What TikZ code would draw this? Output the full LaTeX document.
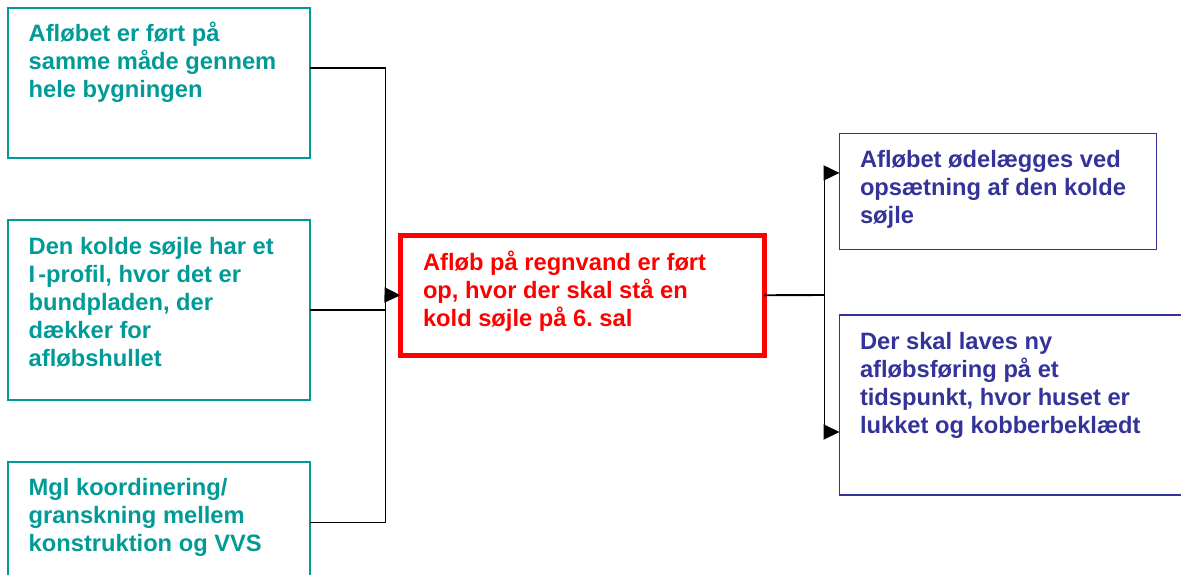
\documentclass[tikz,border=0pt]{standalone}
\usepackage{fontspec}
\setmainfont{Liberation Sans}
\usepackage{tikz}
\usetikzlibrary{arrows.meta}
\usetikzlibrary{calc}
\definecolor{tealc}{HTML}{009A97}
\definecolor{bluec}{HTML}{333399}
\definecolor{redc}{rgb}{1.0, 0.0, 0.0}
\frenchspacing

\newcommand{\boxtext}[3]{\parbox[t][#1][t]{#2}{\rule{0pt}{20pt}#3}}

\tikzset{
  basebox/.style={rectangle, anchor=north west, outer sep=0pt, inner xsep=21pt, inner ysep=14pt,
    align=left, font=\fontsize{23.7}{28}\selectfont\bfseries},
  causebox/.style={basebox, draw=tealc, line width=2pt, text=tealc},
  problembox/.style={basebox, draw=redc, line width=5pt, text=redc, inner xsep=22.5pt, inner ysep=15pt},
  effectbox/.style={basebox, draw=bluec, line width=1.8pt, text=bluec, inner xsep=20.5pt},
  conn/.style={draw=black, line width=1.9pt},
  arr/.style={conn, -{Triangle[length=16pt,width=15pt]}}
}

\begin{document}
\begin{tikzpicture}[x=1pt, y=-1pt]
    \useasboundingbox (0,0) rectangle (1181,575);
    \clip (0,0) rectangle (1181,575);

    % Aarsager (venstre)
    \node[causebox] (a) at (7.7,7.7) {\boxtext{122pt}{260pt}{Afløbet er ført på\\samme måde gennem\\hele bygningen}};
    \node[causebox] (b) at (7.7,220) {\boxtext{152pt}{260pt}{Den kolde søjle har et\\I\kern3pt-profil, hvor det er\\bundpladen, der\\dækker for\\afløbshullet}};
    \node[causebox] (c) at (7.7,461.5) {\boxtext{94pt}{260pt}{Mgl koordinering/\\granskning mellem\\konstruktion og VVS}};

    % Problem (midte)
    \node[problembox] (red) at (400.5,235) {\boxtext{90.5pt}{318.5pt}{Afløb på regnvand er ført\\op, hvor der skal stå en\\kold søjle på 6. sal}};

    % Konsekvenser (hoejre)
    \node[effectbox] (d) at (839.5,133.5) {\boxtext{88pt}{276pt}{Afløbet ødelægges ved\\opsætning af den kolde\\søjle}};
    \node[effectbox] (e) at (839.5,315) {\boxtext{152pt}{319pt}{Der skal laves ny\\afløbsføring på et\\tidspunkt, hvor huset er\\lukket og kobberbeklædt}};

    % Samlepunkter
    \coordinate (ajoin) at ($(a.north east)!0.405!(a.south east)$);
    \coordinate (lbus) at (385.5,295);
    \coordinate (rbus) at (824.5,295);
    \coordinate (dtip) at ($(d.north west)!0.34!(d.south west)$);
    \coordinate (etip) at ($(e.north west)!0.65!(e.south west)$);

    % Venstre forbindelser
    \draw[conn] (ajoin) -| (lbus) |- (c.east);
    \draw[conn] (b.east) -- (b.east -| lbus);
    \draw[arr] (lbus) -- (red.west);

    % Hoejre forbindelser
    \draw[conn] (red.east) -- (rbus);
    \draw[conn] (rbus |- dtip) -- (rbus |- etip);
    \draw[arr] (rbus |- dtip) -- (dtip);
    \draw[arr] (rbus |- etip) -- (etip);
\end{tikzpicture}
\end{document}
